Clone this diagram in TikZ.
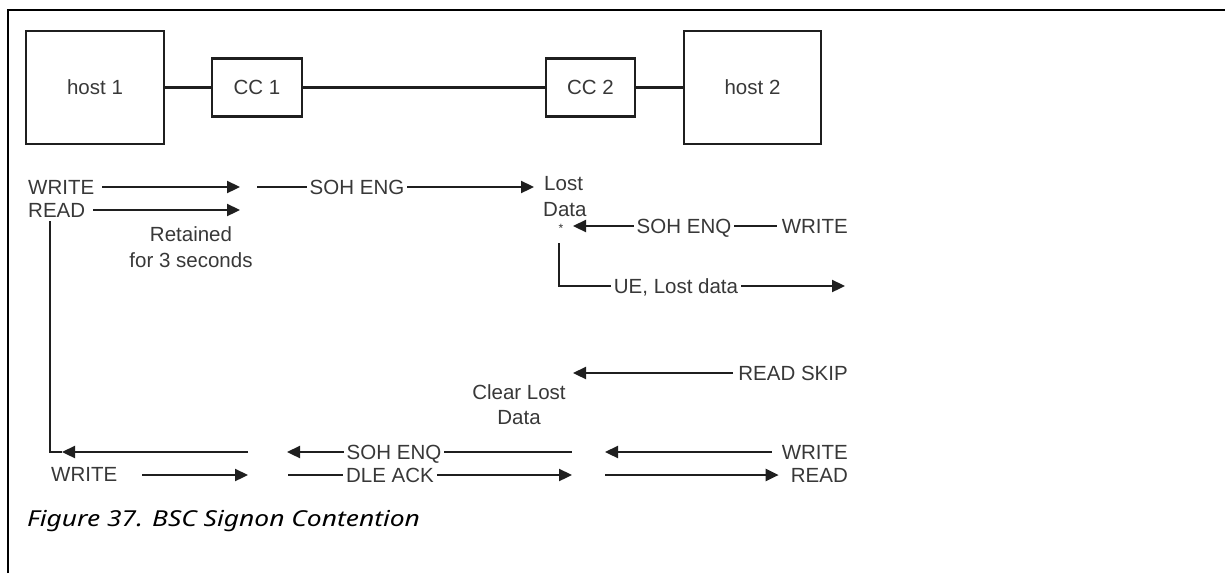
\documentclass[tikz,border=0pt]{standalone}
\usepackage{fontspec}
\setmainfont{Liberation Sans}
\newfontfamily\capfont[FakeStretch=1.2]{Noto Sans}
\usetikzlibrary{arrows.meta}
\newcommand{\diagfont}{\fontsize{20.5}{25}\selectfont}
\tikzset{
  lbl/.style={inner ysep=0pt, inner xsep=0pt, font=\diagfont, text=black!78, text height=14.7pt, text depth=0pt},
  midlbl/.style={lbl, inner xsep=3pt},
  ln/.style={line width=2.3pt, draw=black!88},
  arr/.style={ln, -{Triangle[length=13pt,width=12pt]}},
  box/.style={draw=black!88, line width=2.5pt, inner sep=0pt, font=\diagfont, text=black!78}
}
\begin{document}
\begin{tikzpicture}[x=1pt,y=-1pt]
\useasboundingbox (0,0) rectangle (1225,573);
% frame
\draw[line width=2.8pt] (8,573) -- (8,10) -- (1225,10);
% top boxes
\node[box, minimum width=138pt, minimum height=113pt] (h1) at (95,87.5) {host 1};
\node[box, minimum width=90pt, minimum height=58pt] (cc1) at (257,87.5) {CC 1};
\node[box, minimum width=89pt, minimum height=58pt] (cc2) at (590.5,87.5) {CC 2};
\node[box, minimum width=137pt, minimum height=113pt] (h2) at (752.5,87.5) {host 2};
\draw[ln] (h1.east) -- (cc1.west);
\draw[ln] (cc1.east) -- (cc2.west);
\draw[ln] (cc2.east) -- (h2.west);
% row 1
\node[lbl, anchor=west] (w1) at (28,187) {WRITE};
\coordinate (t1) at (240,187);
\draw[arr] ([xshift=8pt]w1.east) -- (t1);
\node[lbl, anchor=west] (r1) at (28,210) {READ};
\coordinate (t2) at (240,210);
\draw[arr] ([xshift=8pt]r1.east) -- (t2);
\node[lbl, align=center, text height=, text depth=, font=\fontsize{20.5}{26}\selectfont] (ret) at (191,247) {Retained\\for 3 seconds};
\coordinate (s1) at (257,187);
\node[midlbl] (soh1) at (357,187) {SOH ENG};
\coordinate (t3) at (534,187);
\draw[ln] (s1) -- (soh1.west);
\draw[arr] (soh1.east) -- (t3);
\node[lbl, anchor=west] (lost) at (544,183) {Lost};
\node[lbl, anchor=west] (data) at (543,209) {Data};
\node[inner sep=0pt, font=\fontsize{12}{12}\selectfont, text=black!80] (star) at (561,228) {*};
% SOH ENQ from host 2
\coordinate (t4) at (573,226);
\node[midlbl] (soh2) at (684,226) {SOH ENQ};
\node[lbl, anchor=east] (w2) at (848,226) {WRITE};
\draw[arr] (soh2.west) -- (t4);
\draw[ln] (soh2.east) -- ([xshift=-5pt]w2.west);
% UE lost data
\coordinate (u1) at (559,243);
\coordinate (u2) at (559,286);
\node[midlbl] (ue) at (676,286) {UE, Lost data};
\coordinate (t5) at (845,286);
\draw[ln] (u1) -- (u2) -- (ue.west);
\draw[arr] (ue.east) -- (t5);
% READ SKIP
\node[lbl, anchor=east] (rs) at (848,373) {READ SKIP};
\coordinate (t6) at (573,373);
\draw[arr] ([xshift=-5pt]rs.west) -- (t6);
\node[lbl, align=center, text height=, text depth=, font=\fontsize{20.5}{25}\selectfont] (clr) at (519,405) {Clear Lost\\Data};
% left vertical to bottom arrow
\coordinate (v1) at (50,221);
\coordinate (v2) at (50,452);
\coordinate (t7) at (62,452);
\coordinate (s7) at (248,452);
\draw[ln] (v1) -- (v2) -- (t7);
\draw[arr] (s7) -- (t7);
\node[lbl, anchor=west] (w3) at (51,474) {WRITE};
\coordinate (s8) at (142,475);
\coordinate (t8) at (248,475);
\draw[arr] (s8) -- (t8);
% middle bottom
\coordinate (t9) at (287,452);
\node[midlbl] (soh3) at (394,452) {SOH ENQ};
\coordinate (e9) at (572,452);
\draw[arr] (soh3.west) -- (t9);
\draw[ln] (soh3.east) -- (e9);
\coordinate (s10) at (288,475);
\node[midlbl] (dle) at (390,475) {DLE ACK};
\coordinate (t10) at (572,475);
\draw[ln] (s10) -- (dle.west);
\draw[arr] (dle.east) -- (t10);
% right bottom
\node[lbl, anchor=east] (w4) at (848,452) {WRITE};
\coordinate (t11) at (605,452);
\draw[arr] ([xshift=-10pt]w4.west) -- (t11);
\node[lbl, anchor=east] (rd2) at (848,475) {READ};
\coordinate (s12) at (605,475);
\draw[arr] (s12) -- ([xshift=-12pt]rd2.west);
% caption
\node[anchor=base west, inner sep=0pt, font=\capfont\itshape\fontsize{22}{26}\selectfont] (cap) at (27,526) {Figure 37. BSC Signon Contention};
\end{tikzpicture}
\end{document}
